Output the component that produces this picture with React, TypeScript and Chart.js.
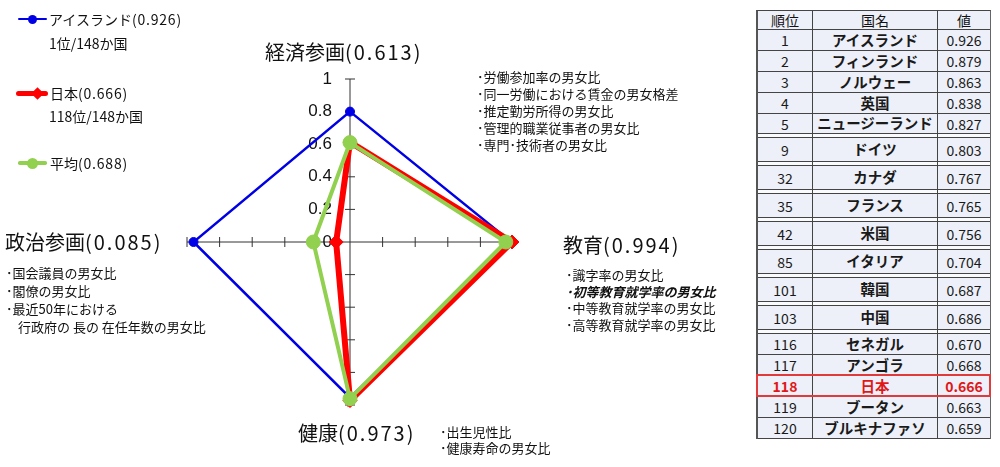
import React, { useEffect, useRef } from "react";
import { Chart, registerables } from "chart.js";

Chart.register(...registerables);

// ---- data ----
const axisNames = ["経済参画", "教育", "健康", "政治参画"];
const japanValues = [0.613, 0.994, 0.973, 0.085];
const icelandValues = [0.8, 0.99, 0.955, 0.96];
const averageValues = [0.61, 0.956, 0.961, 0.225];

const legendNames = ["アイスランド", "日本", "平均"];
const legendScores = [0.926, 0.666, 0.688];
const legendRanks = ["1位/148か国", "118位/148か国", ""];

const econItems = [
  "労働参加率の男女比",
  "同一労働における賃金の男女格差",
  "推定勤労所得の男女比",
  "管理的職業従事者の男女比",
  "専門･技術者の男女比",
];
const eduItems = [
  "識字率の男女比",
  "初等教育就学率の男女比",
  "中等教育就学率の男女比",
  "高等教育就学率の男女比",
];
const healthItems = ["出生児性比", "健康寿命の男女比"];
const politicsItems = [
  "国会議員の男女比",
  "閣僚の男女比",
  "最近50年における",
  "行政府の 長の 在任年数の男女比",
];

const tableHeaders = ["順位", "国名", "値"];
const ranks = [1, 2, 3, 4, 5, 9, 32, 35, 42, 85, 101, 103, 116, 117, 118, 119, 120];
const countries = [
  "アイスランド", "フィンランド", "ノルウェー", "英国", "ニュージーランド",
  "ドイツ", "カナダ", "フランス", "米国", "イタリア", "韓国", "中国",
  "セネガル", "アンゴラ", "日本", "ブータン", "ブルキナファソ",
];
const scores = [
  0.926, 0.879, 0.863, 0.838, 0.827, 0.803, 0.767, 0.765, 0.756, 0.704,
  0.687, 0.686, 0.67, 0.668, 0.666, 0.663, 0.659,
];
const highlightCountry = "日本";

// ---- styles ----
const JP = "'Noto Sans CJK JP', 'Noto Sans', sans-serif";
const BLUE = "#0000e6";
const RED = "#ff0000";
const GREEN = "#92d050";
const TABLE_BG = "#edf0f8";
const LINE = "#444";

const axisTicksPlugin = {
  id: "axisTicks",
  beforeDatasetsDraw(chart: any) {
    const scale = chart.scales.r;
    const ctx = chart.ctx;
    const n = chart.data.labels.length;
    ctx.save();
    ctx.strokeStyle = "#333";
    ctx.lineWidth = 1;
    scale.ticks.forEach((t: any) => {
      if (t.value === 0) return;
      const d = scale.getDistanceFromCenterForValue(t.value);
      for (let i = 0; i < n; i++) {
        const p = scale.getPointPosition(i, d);
        const a = scale.getIndexAngle(i) - Math.PI / 2;
        const px = -Math.sin(a);
        const py = Math.cos(a);
        ctx.beginPath();
        ctx.moveTo(p.x + px * 5, p.y + py * 5);
        ctx.lineTo(p.x - px * 5, p.y - py * 5);
        ctx.stroke();
      }
    });
    ctx.fillStyle = "#111";
    ctx.font = "17px 'Liberation Sans', Arial, sans-serif";
    ctx.textAlign = "right";
    ctx.textBaseline = "middle";
    scale.ticks.forEach((t: any) => {
      const d = scale.getDistanceFromCenterForValue(t.value);
      const p = scale.getPointPosition(0, d);
      ctx.fillText(t.label, p.x - 18, p.y);
    });
    ctx.restore();
  },
};

function Txt(props: { x: number; y: number; size: number; children: any; style?: any }) {
  return (
    <div
      style={{
        position: "absolute",
        left: props.x,
        top: props.y,
        transform: "translateY(-50%)",
        fontSize: props.size,
        lineHeight: 1.2,
        whiteSpace: "nowrap",
        ...(props.style || {}),
      }}
    >
      {props.children}
    </div>
  );
}

function ItemList(props: { items: string[]; x: number; y: number; gap: number; indentLast?: boolean; italicIndex?: number }) {
  return (
    <>
      {props.items.map((s, i) => {
        const cont = props.indentLast && i === props.items.length - 1;
        return (
          <Txt
            key={i}
            x={props.x + (cont ? 12 : 0)}
            y={props.y + i * props.gap}
            size={13}
            style={
              props.italicIndex === i ? { fontStyle: "italic", fontWeight: 700 } : {}
            }
          >
            {cont ? s : "･" + s}
          </Txt>
        );
      })}
    </>
  );
}

function LegendMarker(props: { y: number; color: string; thick: number; shape: string; cx: number; size: number; x0: number; w: number }) {
  const { y, color, thick, shape, cx, size, x0, w } = props;
  return (
    <>
      <div style={{ position: "absolute", left: x0, top: y - thick / 2, width: w, height: thick, background: color, borderRadius: thick / 2 }} />
      <div
        style={{
          position: "absolute",
          left: cx - size / 2,
          top: y - size / 2,
          width: size,
          height: size,
          background: color,
          borderRadius: shape === "circle" ? "50%" : 0,
          transform: shape === "diamond" ? "rotate(45deg)" : undefined,
        }}
      />
    </>
  );
}

function RankTable() {
  const colW = [55, 125, 52];
  const cell = (content: any, w: number, last: boolean, extra: any = {}) => (
    <div
      style={{
        width: w,
        height: "100%",
        boxSizing: "border-box",
        borderRight: last ? "none" : `1px solid ${LINE}`,
        display: "flex",
        alignItems: "center",
        justifyContent: "center",
        ...extra,
      }}
    >
      {content}
    </div>
  );
  const sep = (key: string) => (
    <div key={key} style={{ display: "flex", height: 4, boxSizing: "border-box", borderBottom: `1px solid ${LINE}`, background: "#fafbfd" }}>
      {colW.map((w, i) => cell(null, w, i === 2, { key: i }))}
    </div>
  );
  const rowHeight = (i: number) => {
    if (i < 5) return i === 4 ? 20 : 21;
    if (i < 12) return 24;
    return 21;
  };
  const rows: any[] = [];
  rows.push(
    <div key="h" style={{ display: "flex", height: 19, boxSizing: "border-box", borderBottom: `1px solid ${LINE}`, background: TABLE_BG, fontSize: 14 }}>
      {tableHeaders.map((h, i) => cell(h, colW[i], i === 2, { key: i }))}
    </div>
  );
  ranks.forEach((r, i) => {
    const hl = countries[i] === highlightCountry;
    const color = hl ? "#e01818" : "#1a1a1a";
    rows.push(
      <div
        key={"r" + i}
        style={{
          position: "relative",
          display: "flex",
          height: rowHeight(i),
          boxSizing: "border-box",
          borderBottom: `1px solid ${LINE}`,
          background: TABLE_BG,
          color,
        }}
      >
        {cell(String(r), colW[0], false, { fontSize: 14, fontWeight: hl ? 700 : 400 })}
        {cell(countries[i], colW[1], false, { fontSize: 14.5, fontWeight: 700 })}
        {cell(scores[i].toFixed(3), colW[2], true, { fontSize: 14, fontWeight: hl ? 700 : 400 })}
        {hl && (
          <div style={{ position: "absolute", left: -2, right: -1, top: -2, bottom: -1, border: "2px solid #e03a3a", pointerEvents: "none" }} />
        )}
      </div>
    );
    if (i >= 4 && i <= 11) rows.push(sep("s" + i));
  });
  return (
    <div
      style={{
        position: "absolute",
        left: 756,
        top: 10,
        width: 235,
        boxSizing: "border-box",
        borderLeft: "2px solid #555",
        borderRight: "1px solid #666",
        borderTop: `1px solid ${LINE}`,
        fontFamily: JP,
        lineHeight: 1,
      }}
    >
      {rows}
    </div>
  );
}

export default function App() {
  const ref = useRef<HTMLCanvasElement>(null);

  useEffect(() => {
    const chart = new Chart(ref.current as HTMLCanvasElement, {
      type: "radar",
      data: {
        labels: axisNames,
        datasets: [
          {
            label: legendNames[0],
            data: icelandValues,
            borderColor: BLUE,
            backgroundColor: "transparent",
            borderWidth: 2.5,
            pointStyle: "circle",
            pointRadius: 4.5,
            pointBackgroundColor: BLUE,
            pointBorderColor: BLUE,
            pointBorderWidth: 1,
            fill: false,
            order: 3,
            clip: false,
          } as any,
          {
            label: legendNames[1],
            data: japanValues,
            borderColor: RED,
            backgroundColor: "transparent",
            borderWidth: 6,
            pointStyle: "rectRot",
            pointRadius: 7,
            pointBackgroundColor: RED,
            pointBorderColor: RED,
            pointBorderWidth: 1,
            fill: false,
            order: 2,
            clip: false,
          } as any,
          {
            label: legendNames[2],
            data: averageValues,
            borderColor: GREEN,
            backgroundColor: "transparent",
            borderWidth: 4,
            pointStyle: "circle",
            pointRadius: 7,
            pointBackgroundColor: GREEN,
            pointBorderColor: GREEN,
            pointBorderWidth: 1,
            fill: false,
            order: 1,
            clip: false,
          } as any,
        ],
      },
      options: {
        animation: false,
        responsive: true,
        maintainAspectRatio: false,
        events: [],
        layout: { padding: { left: 187, top: 79, right: 227, bottom: 62 } },
        plugins: { legend: { display: false }, tooltip: { enabled: false } },
        scales: {
          r: {
            min: 0,
            max: 1,
            ticks: {
              display: false,
              stepSize: 0.2,
              callback: (v: any) => String(Number(Number(v).toFixed(1))),
            },
            grid: { display: false },
            angleLines: { display: true, color: "#333", lineWidth: 1 },
            pointLabels: { display: false },
          },
        },
      } as any,
      plugins: [axisTicksPlugin],
    });
    return () => chart.destroy();
  }, []);

  const title = (i: number) => (
    <>
      {axisNames[i]}
      <span style={{ letterSpacing: 2 }}>{`(${japanValues[i].toFixed(3)})`}</span>
    </>
  );
  const legendLabel = (i: number) => (
    <>
      {legendNames[i]}
      <span style={{ letterSpacing: 0.8 }}>{`(${legendScores[i].toFixed(3)})`}</span>
    </>
  );

  return (
    <div
      style={{
        position: "absolute",
        left: 0,
        top: 0,
        width: 1000,
        height: 467,
        background: "#fff",
        overflow: "hidden",
        fontFamily: JP,
        color: "#111",
      }}
    >
      <div style={{ position: "absolute", left: 0, top: 0, width: 740, height: 467 }}>
        <canvas ref={ref} />
      </div>

      {/* legend */}
      <LegendMarker y={19} color={BLUE} thick={2.5} shape="circle" cx={32} size={9} x0={18} w={29} />
      <Txt x={49} y={19} size={14}>{legendLabel(0)}</Txt>
      <Txt x={49} y={43} size={14}>{legendRanks[0]}</Txt>
      <LegendMarker y={93} color={RED} thick={5} shape="diamond" cx={37} size={9} x0={16} w={32} />
      <Txt x={50} y={93} size={14}>{legendLabel(1)}</Txt>
      <Txt x={49} y={116} size={14}>{legendRanks[1]}</Txt>
      <LegendMarker y={163} color={GREEN} thick={3.5} shape="circle" cx={32} size={11} x0={18} w={29} />
      <Txt x={50} y={163} size={14}>{legendLabel(2)}</Txt>

      {/* axis titles */}
      <Txt x={265} y={52} size={20}>{title(0)}</Txt>
      <Txt x={563} y={245} size={20}>{title(1)}</Txt>
      <Txt x={298} y={433} size={20}>{title(2)}</Txt>
      <Txt x={5} y={242} size={20}>{title(3)}</Txt>

      {/* sub-indicators */}
      <ItemList items={econItems} x={477} y={77} gap={17} />
      <ItemList items={eduItems} x={566} y={275} gap={16.5} italicIndex={1} />
      <ItemList items={healthItems} x={440} y={432} gap={16} />
      <ItemList items={politicsItems} x={6} y={273} gap={18} indentLast />

      <RankTable />
    </div>
  );
}
